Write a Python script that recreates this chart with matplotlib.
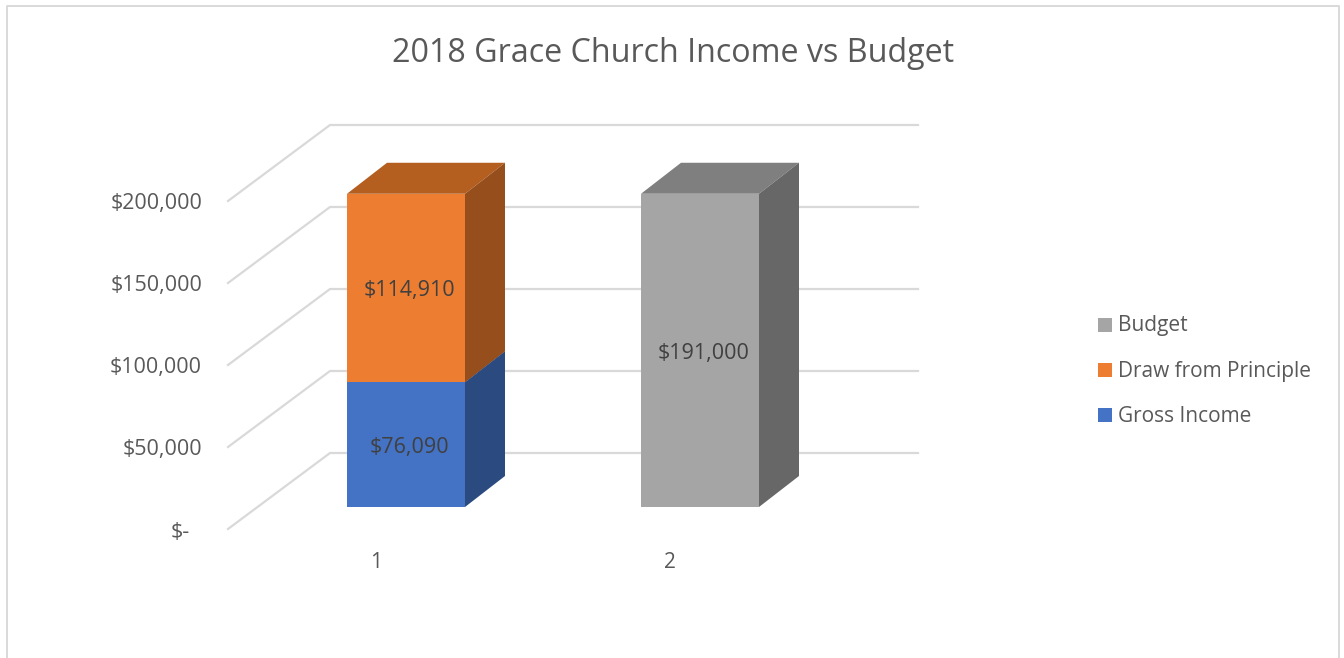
import matplotlib
matplotlib.use("Agg")
import matplotlib.pyplot as plt
from matplotlib.patches import Rectangle

plt.rcParams['font.family'] = ['Open Sans', 'DejaVu Sans']

title = "2018 Grace Church Income vs Budget"
categories = [1, 2]
gross_income = [76090, 0]
draw_principle = [114910, 0]
budget = [0, 191000]
y_ticks = [0, 50000, 100000, 150000, 200000]
y_labels = ["$-", "$50,000", "$100,000", "$150,000", "$200,000"]
legend_labels = ["Budget", "Draw from Principle", "Gross Income"]

W, H = 1344, 658
TEXT = "#595959"
GRID = "#d9d9d9"

# pixel layout of the fake 3d box
X0_PX = 406      # centre of category 1
X_STEP_PX = 294
Y0_PX = 507      # value 0 on the front plane of the bars
PX_PER_VAL = 328 / 200000
BAR_W = 118 / X_STEP_PX
DEPTH_X = 40 / X_STEP_PX
DEPTH_Y = 31 / PX_PER_VAL

fig = plt.figure(figsize=(W / 100, H / 100), dpi=100)
ax = fig.add_axes([0, 0, 1, 1])
ax.set_xlim(1 - X0_PX / X_STEP_PX, 1 + (W - X0_PX) / X_STEP_PX)
ax.set_ylim((Y0_PX - H) / PX_PER_VAL, Y0_PX / PX_PER_VAL)
ax.axis("off")


def px_x(p):
    return 1 + (p - X0_PX) / X_STEP_PX


def px_dy(p):
    return p / PX_PER_VAL


# chart frame, runs off the bottom of the image
ax.plot([px_x(7), px_x(7), px_x(1339), px_x(1339)],
        [px_dy(Y0_PX - 660), px_dy(Y0_PX - 6), px_dy(Y0_PX - 6), px_dy(Y0_PX - 660)],
        color=GRID, lw=1.4, clip_on=False)

# walls
for v, lab in zip(y_ticks, y_labels):
    y_front = v - px_dy(22)
    y_back = v + px_dy(54)
    ax.plot([px_x(228), px_x(330), px_x(918)], [y_front, y_back, y_back], color=GRID, lw=1.6)
    # accounting format, the dash of zero stops short of the other labels
    right = 190 if v == 0 else 202
    ax.text(px_x(right), y_front - px_dy(3), lab, ha="right", va="center", fontsize=15.5, color=TEXT)


def bar3d(x, bottom, height, front, top, side):
    left = x - BAR_W / 2
    right = x + BAR_W / 2
    upper = bottom + height
    ax.fill([left, right, right + DEPTH_X, left + DEPTH_X],
            [upper, upper, upper + DEPTH_Y, upper + DEPTH_Y], color=top, lw=0, zorder=3)
    ax.fill([right, right + DEPTH_X, right + DEPTH_X, right],
            [bottom, bottom + DEPTH_Y, upper + DEPTH_Y, upper], color=side, lw=0, zorder=3)
    ax.fill([left, right, right, left], [bottom, bottom, upper, upper], color=front, lw=0, zorder=4)


bar3d(categories[0], 0, gross_income[0], "#4472c4", "#2f5597", "#2a4a80")
bar3d(categories[0], gross_income[0], draw_principle[0], "#ed7d31", "#b45e20", "#964f1c")
bar3d(categories[1], 0, budget[1], "#a5a5a5", "#7f7f7f", "#676767")

# data labels
LABEL_DX = 3.5 / X_STEP_PX
LABEL_DY = px_dy(-3)
ax.text(categories[0] + LABEL_DX, gross_income[0] / 2 + LABEL_DY, "$76,090", ha="center", va="center",
        fontsize=15.5, color="#404040", zorder=5)
ax.text(categories[0] + LABEL_DX, gross_income[0] + draw_principle[0] / 2 + LABEL_DY, "$114,910",
        ha="center", va="center", fontsize=15.5, color="#404040", zorder=5)
ax.text(categories[1] + LABEL_DX, budget[1] / 2 + LABEL_DY, "$191,000", ha="center", va="center",
        fontsize=15.5, color="#404040", zorder=5)

# category labels
for c in categories:
    ax.text(c - 30 / X_STEP_PX, px_dy(Y0_PX - 563), str(c), ha="center", va="center", fontsize=15, color=TEXT)

ax.text(px_x(673), px_dy(Y0_PX - 53), title, ha="center", va="center", fontsize=23.2, color=TEXT)

# legend
for lab, col, py in zip(legend_labels, ["#a5a5a5", "#ed7d31", "#4472c4"], [325, 370, 415]):
    ax.add_patch(Rectangle((px_x(1098), px_dy(Y0_PX - py - 7)), 14 / X_STEP_PX, px_dy(14), color=col, lw=0))
    ax.text(px_x(1118), px_dy(Y0_PX - py - 1), lab, ha="left", va="center", fontsize=15, color=TEXT)

fig.savefig("out.png", dpi=100, facecolor="white")
